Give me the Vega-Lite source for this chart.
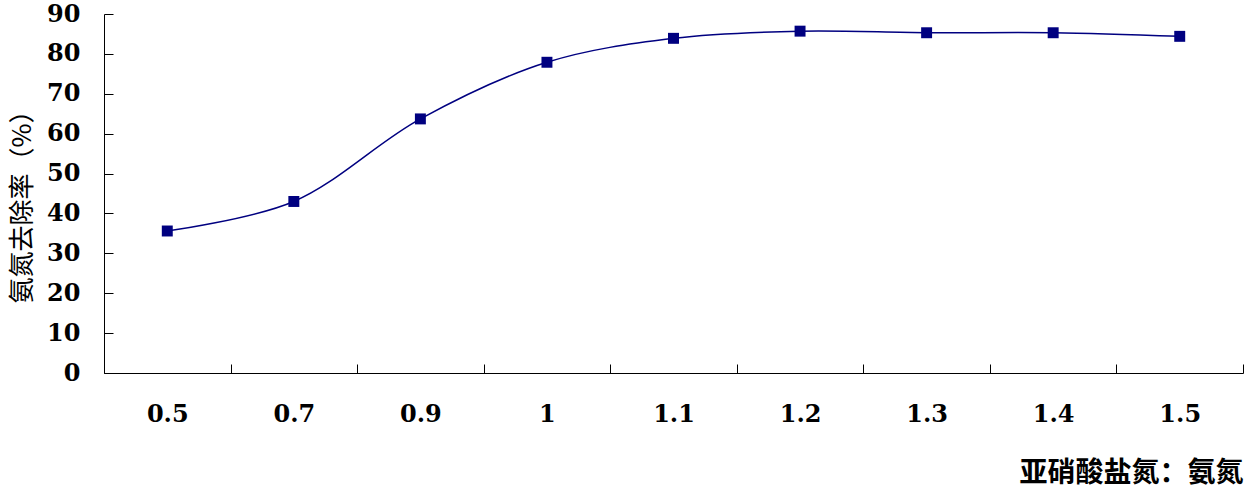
{
  "$schema": "https://vega.github.io/schema/vega-lite/v6.json",
  "autosize": {"type": "none"},
  "width": 1139,
  "height": 359,
  "padding": {"left": 104, "top": 14, "right": 6, "bottom": 121},
  "background": "white",
  "config": {"view": {"stroke": null}},
  "data": {"values": [
    {"ratio": "0.5", "removal": 35.6},
    {"ratio": "0.7", "removal": 43.0},
    {"ratio": "0.9", "removal": 63.7},
    {"ratio": "1", "removal": 77.9},
    {"ratio": "1.1", "removal": 83.9},
    {"ratio": "1.2", "removal": 85.7},
    {"ratio": "1.3", "removal": 85.3},
    {"ratio": "1.4", "removal": 85.3},
    {"ratio": "1.5", "removal": 84.4}
  ]},
  "encoding": {
    "x": {
      "field": "ratio", "type": "ordinal", "sort": null,
      "scale": {"type": "band", "paddingInner": 0, "paddingOuter": 0},
      "axis": {
        "title": "亚硝酸盐氮：氨氮",
        "titleFont": "Noto Sans CJK SC", "titleFontSize": 28, "titleFontWeight": "bold", "titleColor": "black",
        "titleAnchor": "end", "titleAlign": "right", "titleBaseline": "middle",
        "titleX": 1139, "titleY": 100,
        "labelAngle": 0, "labelFont": "DejaVu Serif", "labelFontSize": 24, "labelFontWeight": "bold", "labelColor": "black",
        "labelPadding": 38, "labelBaseline": "top",
        "tickBand": "extent", "tickSize": -9, "tickColor": "black", "domainColor": "black",
        "grid": false
      }
    },
    "y": {
      "field": "removal", "type": "quantitative",
      "scale": {"domain": [0, 90], "nice": false, "zero": true},
      "axis": {
        "title": "氨氮去除率（%）",
        "titleFont": "Noto Sans CJK SC", "titleFontSize": 26, "titleFontWeight": "normal", "titleColor": "black",
        "titleX": -82, "titleY": 186, "titleAlign": "center", "titleBaseline": "middle", "titleAngle": -90,
        "values": [0, 10, 20, 30, 40, 50, 60, 70, 80, 90],
        "labelFont": "DejaVu Serif", "labelFontSize": 24, "labelFontWeight": "bold", "labelColor": "black",
        "labelPadding": 33, "labelFlush": false,
        "tickSize": -9, "tickColor": "black", "domainColor": "black",
        "grid": false
      }
    }
  },
  "layer": [
    {"mark": {"type": "line", "interpolate": "catmull-rom", "color": "#000080", "strokeWidth": 1.5}},
    {"mark": {"type": "point", "shape": "square", "filled": true, "size": 120, "color": "#000080", "opacity": 1}}
  ]
}
